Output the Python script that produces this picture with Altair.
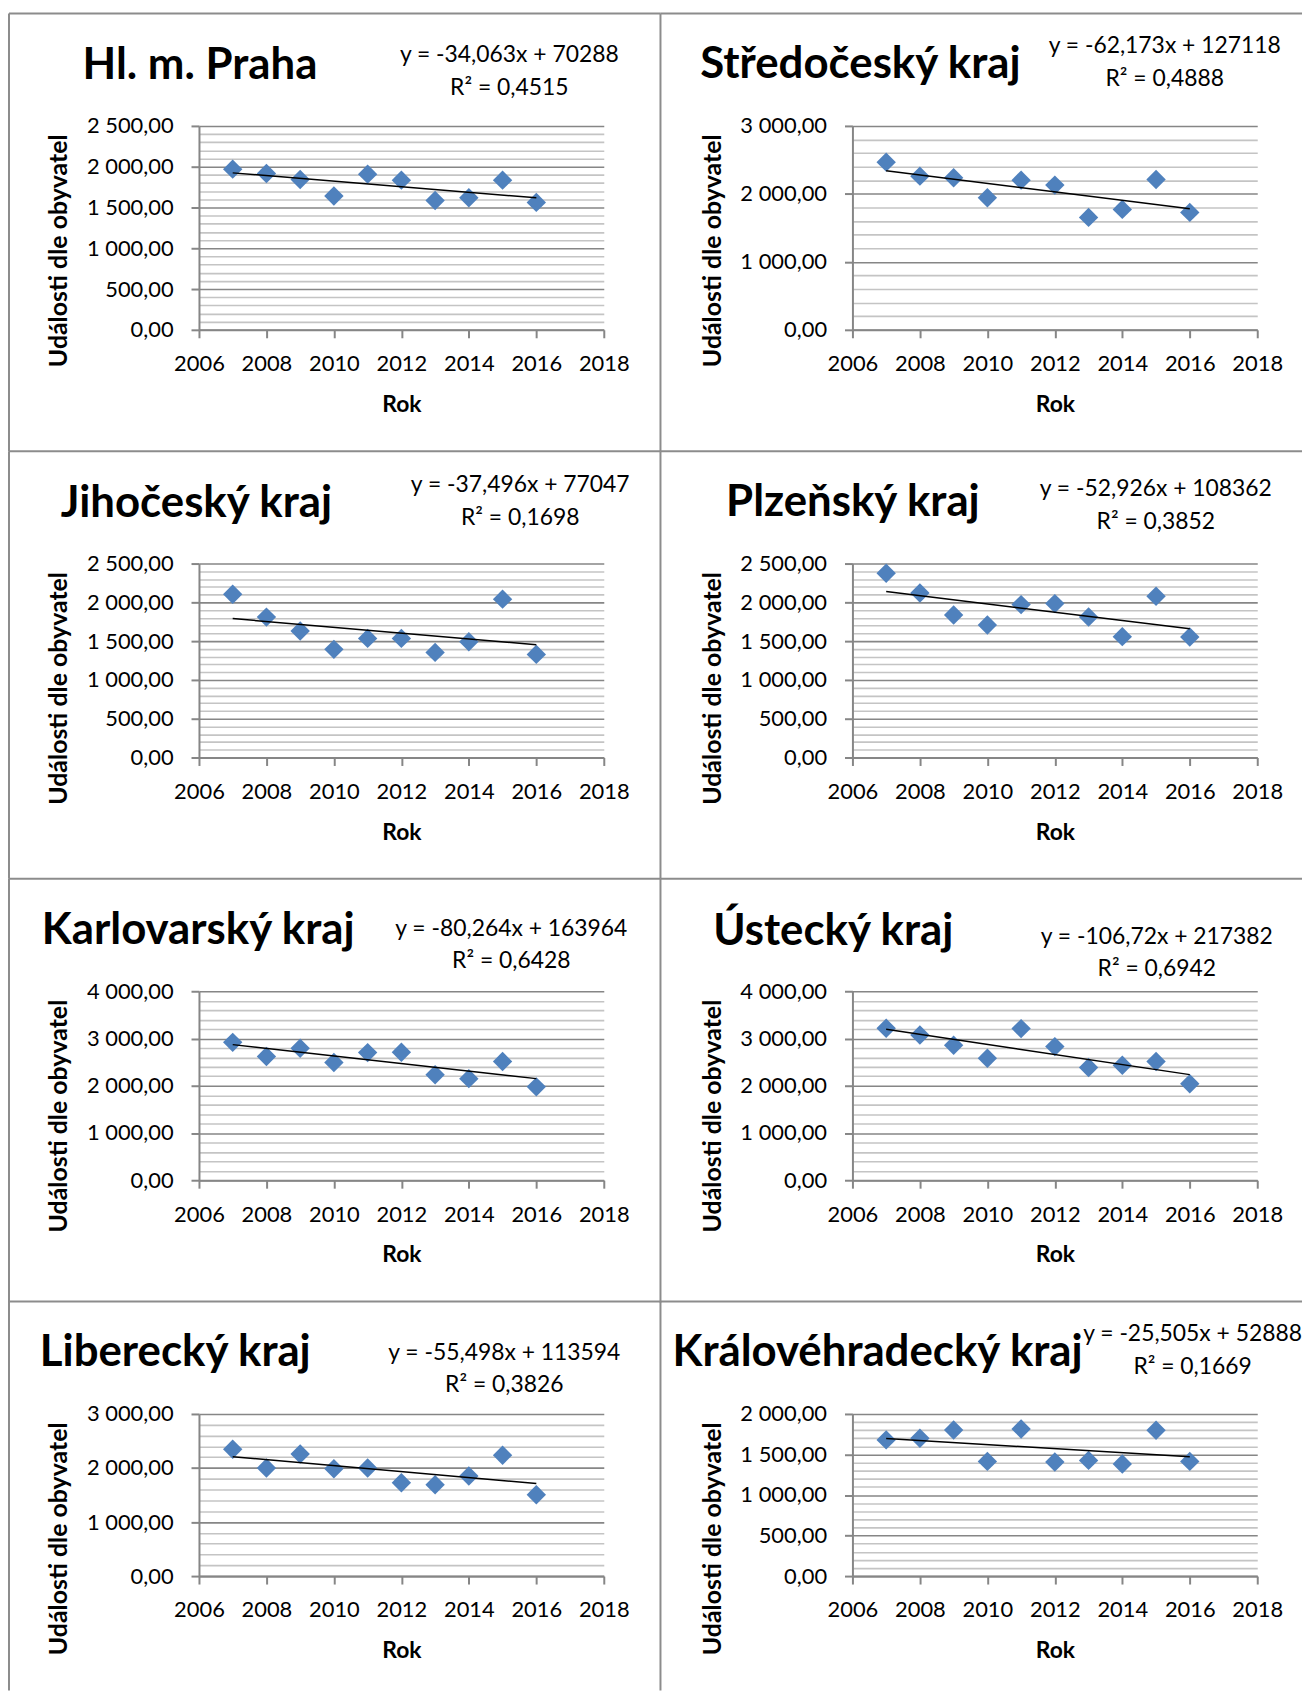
import altair as alt
import pandas as pd

# ---------------- data ----------------
years = [2007, 2008, 2009, 2010, 2011, 2012, 2013, 2014, 2015, 2016]
regions = ["Hl. m. Praha", "Středočeský kraj", "Jihočeský kraj", "Plzeňský kraj",
           "Karlovarský kraj", "Ústecký kraj", "Liberecký kraj", "Královéhradecký kraj"]

praha = [1970, 1917, 1843, 1640, 1909, 1835, 1586, 1619, 1835, 1562]
stredocesky = [2467, 2261, 2237, 1943, 2202, 2129, 1654, 1772, 2212, 1728]
jihocesky = [2105, 1810, 1630, 1394, 1535, 1535, 1355, 1492, 2041, 1329]
plzensky = [2375, 2121, 1837, 1708, 1971, 1984, 1812, 1558, 2078, 1553]
karlovarsky = [2918, 2618, 2792, 2492, 2702, 2709, 2234, 2150, 2513, 1976]
ustecky = [3216, 3075, 2857, 2583, 3209, 2829, 2386, 2435, 2513, 2042]
liberecky = [2346, 2000, 2260, 1987, 2000, 1728, 1690, 1851, 2235, 1505]
kralovehradecky = [1680, 1701, 1803, 1415, 1815, 1407, 1427, 1383, 1799, 1415]
series = [praha, stredocesky, jihocesky, plzensky, karlovarsky, ustecky, liberecky,
          kralovehradecky]

equations = ["y = -34,063x + 70288", "y = -62,173x + 127118", "y = -37,496x + 77047",
             "y = -52,926x + 108362", "y = -80,264x + 163964", "y = -106,72x + 217382",
             "y = -55,498x + 113594", "y = -25,505x + 52888"]
r_squared = ["R² = 0,4515", "R² = 0,4888", "R² = 0,1698", "R² = 0,3852",
             "R² = 0,6428", "R² = 0,6942", "R² = 0,3826", "R² = 0,1669"]

y_max = [2500, 3000, 2500, 2500, 4000, 4000, 3000, 2000]
y_major = [500, 1000, 500, 500, 1000, 1000, 1000, 500]
y_minor = [100, 200, 100, 100, 200, 200, 200, 100]
x_ticks = [2006, 2008, 2010, 2012, 2014, 2016, 2018]

# ---------------- layout (pixels, relative to each plot area) ----------------
PLOT_W = 407
ROW_HEIGHTS = [205, 195, 190, 163]
CELL_HEIGHTS = [440, 430, 426, 391]
title_dx = [-117, -153, -139, -127, -158, -140, -160, -181]
title_y = [-47, -48, -47, -48, -48, -47, -48, -48]
eq_cx = [312, 314, 323, 305, 314, 306, 307, 342]
eq_y1 = [-64, -73, -72, -68, -56, -48, -54, -73]
eq_y2 = [-31, -40, -39, -35, -23, -15, -22, -40]

FONT = "Lato"
BLUE = "#4F81BD"
MAJOR = "#868686"
MINOR = "#C4C4C4"
BORDER = "#8C8C8C"

one = pd.DataFrame({"k": [0]})


def label_expr(major):
    return (f"datum.value % {major} === 0 ? "
            "replace(replace(format(datum.value, ',.2f'), ',', ' '), '.', ',') : ''")


panels = []
for i, name in enumerate(regions):
    row, col = divmod(i, 2)
    h = ROW_HEIGHTS[row]
    df = pd.DataFrame({"rok": years, "hodnota": series[i]})
    is_major = f"datum.value % {y_major[i]} === 0"

    x_enc = alt.X(
        "rok:Q",
        scale=alt.Scale(domain=[2006, 2018], nice=False, zero=False),
        axis=alt.Axis(values=x_ticks, format="d", grid=False, labelFlush=False,
                      labelOverlap=False, tickSize=8, labelPadding=33,
                      labelBaseline="alphabetic",
                      title="Rok", titleFontSize=23, titleFontWeight="bold",
                      titleX=PLOT_W / 2, titleY=82, titleBaseline="alphabetic"),
    )
    y_enc = alt.Y(
        "hodnota:Q",
        scale=alt.Scale(domain=[0, y_max[i]], nice=False, zero=True),
        axis=alt.Axis(values=list(range(0, y_max[i] + 1, y_minor[i])),
                      labelExpr=label_expr(y_major[i]), labelOverlap=False,
                      grid=True,
                      gridColor={"condition": {"test": is_major, "value": MAJOR},
                                 "value": MINOR},
                      tickOpacity={"condition": {"test": is_major, "value": 1},
                                   "value": 0},
                      tickSize=8, labelPadding=18,
                      title="Události dle obyvatel", titleFontSize=25,
                      titleFontWeight="bold", titleX=-141, titleY=125,
                      titleBaseline="middle"),
    )

    base = alt.Chart(df)
    pts = base.mark_point(shape="diamond", filled=True, size=380, color=BLUE,
                          opacity=1).encode(x=x_enc, y=y_enc)
    trend = base.transform_regression("rok", "hodnota").mark_line(
        color="black", strokeWidth=1.5).encode(x=x_enc, y=y_enc)

    bx = -191 if col == 0 else -193
    bx2 = 464 if col == 0 else 452
    top = -113
    border_top = alt.Chart(one).mark_rule(color=BORDER, strokeWidth=2).encode(
        x=alt.value(bx), x2=alt.value(bx2), y=alt.value(top))
    border_left = alt.Chart(one).mark_rule(color=BORDER, strokeWidth=2).encode(
        x=alt.value(bx), y=alt.value(top), y2=alt.value(top + CELL_HEIGHTS[row]))

    title = alt.Chart(pd.DataFrame({"t": [name]})).mark_text(
        align="left", baseline="alphabetic", font=FONT, fontSize=44,
        fontWeight="bold", color="black").encode(
        text="t:N", x=alt.value(title_dx[i]), y=alt.value(title_y[i]))
    eq1 = alt.Chart(pd.DataFrame({"t": [equations[i]]})).mark_text(
        align="center", baseline="alphabetic", font=FONT, fontSize=23,
        color="black").encode(text="t:N", x=alt.value(eq_cx[i]), y=alt.value(eq_y1[i]))
    eq2 = alt.Chart(pd.DataFrame({"t": [r_squared[i]]})).mark_text(
        align="center", baseline="alphabetic", font=FONT, fontSize=23,
        color="black").encode(text="t:N", x=alt.value(eq_cx[i]), y=alt.value(eq_y2[i]))

    panels.append(
        alt.layer(border_top, border_left, pts, trend, title, eq1, eq2)
        .properties(width=PLOT_W, height=h)
    )

chart = (
    alt.concat(*panels, columns=2, spacing={"row": 235, "column": 250},
               bounds="flush", align="each", padding=0)
    .configure_view(stroke=None)
    .configure_axis(labelFont=FONT, labelFontSize=22, labelColor="black",
                    titleFont=FONT, titleColor="black", domainColor=MAJOR,
                    domainWidth=2, tickColor=MAJOR, tickWidth=2, gridWidth=1.6)
)

chart.save("out.html", embed_options={"renderer": "svg", "actions": False})
